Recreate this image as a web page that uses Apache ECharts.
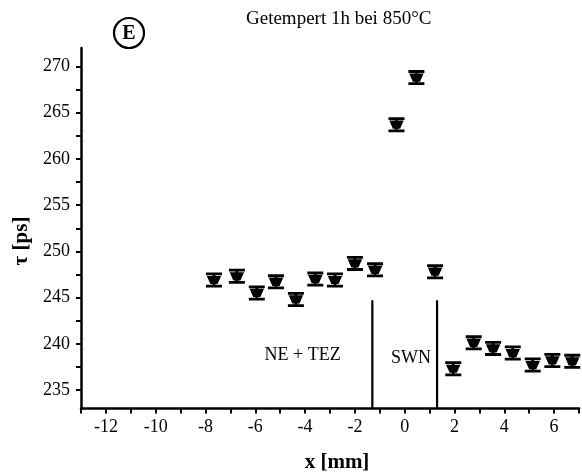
<!DOCTYPE html>
<html><head><meta charset="utf-8">
<script src="https://cdn.jsdelivr.net/npm/echarts@6/dist/echarts.min.js"></script>
<style>html,body{margin:0;padding:0;background:#fff}#c{width:582px;height:476px}</style>
</head><body><div id="c"></div>
<script>
// data
const xPos = [-7.66,-6.74,-5.94,-5.17,-4.37,-3.59,-2.80,-2.00,-1.19,-0.33,0.47,1.22,1.95,2.77,3.55,4.34,5.14,5.93,6.73];
const tau  = [246.9,247.3,245.5,246.7,244.8,247.0,246.9,248.7,248.0,263.7,268.8,247.8,237.3,240.1,239.5,239.0,237.7,238.2,238.1];
const yTickValues = [235,237.5,240,242.5,245,247.5,250,252.5,255,257.5,260,262.5,265,267.5,270];
const yLabelValues = [235,240,245,250,255,260,265,270];
const boundaryX = [-1.3, 1.3];
const boundaryTop = 244.7;
const regionNames = ['NE + TEZ', 'SWN'];
const regionX = [-4.1, 0.25];
const regionY = [238.8, 238.4];
const titleText = 'Getempert 1h bei 850°C';
const panelLetter = 'E';
const xName = 'x [mm]';
const yName = 'τ [ps]';

const FONT = 'Liberation Serif';
const markerPath = 'path://M0,0H16V2.8H9.4V3.4H15.2L11.6,11.6H9.4V12.2H16V15H0V12.2H6.6V11.6H4.4L0.8,3.4H6.6V2.8H0Z';

const chart = echarts.init(document.getElementById('c'), null, {renderer:'canvas'});
const pts = xPos.map((x,i)=>[x, tau[i]]);
const series = [{
  type:'scatter', data: pts, symbol: markerPath, symbolSize:[16,15],
  itemStyle:{color:'#000', opacity:1}, z:5, silent:true
}];
boundaryX.forEach(bx=>{
  series.push({type:'line', data:[[bx,233],[bx,boundaryTop]], symbol:'none',
    lineStyle:{color:'#000', width:2.2}, silent:true});
});
series.push({type:'scatter', symbolSize:0, itemStyle:{opacity:1},
  data: regionNames.map((n,i)=>({value:[regionX[i],regionY[i]], name:n})),
  label:{show:true, position:'inside', formatter:p=>p.name, color:'#000',
    fontFamily:FONT, fontSize:18}, silent:true});

chart.setOption({
  backgroundColor:'#fff',
  animation:false,
  grid:{left:81, right:0, top:48, bottom:67.5},
  xAxis:{type:'value', min:-13, max:7, interval:1,
    axisLine:{onZero:false, lineStyle:{color:'#000', width:2.5}},
    axisTick:{show:true, length:5, lineStyle:{color:'#000', width:2}},
    axisLabel:{color:'#000', fontFamily:FONT, fontSize:18, margin:10,
      formatter:v=> (Math.round(v)%2===0 ? String(v) : '')},
    splitLine:{show:false}},
  yAxis:{type:'value', min:233, max:272,
    axisLine:{show:true, onZero:false, lineStyle:{color:'#000', width:2.5}},
    axisTick:{show:true, length:5, customValues:yTickValues, lineStyle:{color:'#000', width:2}},
    axisLabel:{color:'#000', fontFamily:FONT, fontSize:18, margin:11, customValues:yLabelValues},
    splitLine:{show:false}},
  graphic:[
    {type:'text', left:246, top:10, style:{text:titleText, fontFamily:FONT, fontSize:19, fill:'#000'}},
    {type:'circle', shape:{cx:129, cy:33, r:15}, style:{fill:'none', stroke:'#000', lineWidth:2.2}},
    {type:'text', x:129, y:34, style:{text:panelLetter, fontFamily:FONT, fontSize:20, fontWeight:'bold', fill:'#000', align:'center', verticalAlign:'middle'}},
    {type:'text', x:337, y:463, style:{text:xName, fontFamily:FONT, fontSize:21, fontWeight:'bold', fill:'#000', align:'center', verticalAlign:'middle'}},
    {type:'text', x:22, y:241, rotation:Math.PI/2, style:{text:yName, fontFamily:FONT, fontSize:21, fontWeight:'bold', fill:'#000', align:'center', verticalAlign:'middle'}}
  ],
  series: series
});
</script></body></html>
